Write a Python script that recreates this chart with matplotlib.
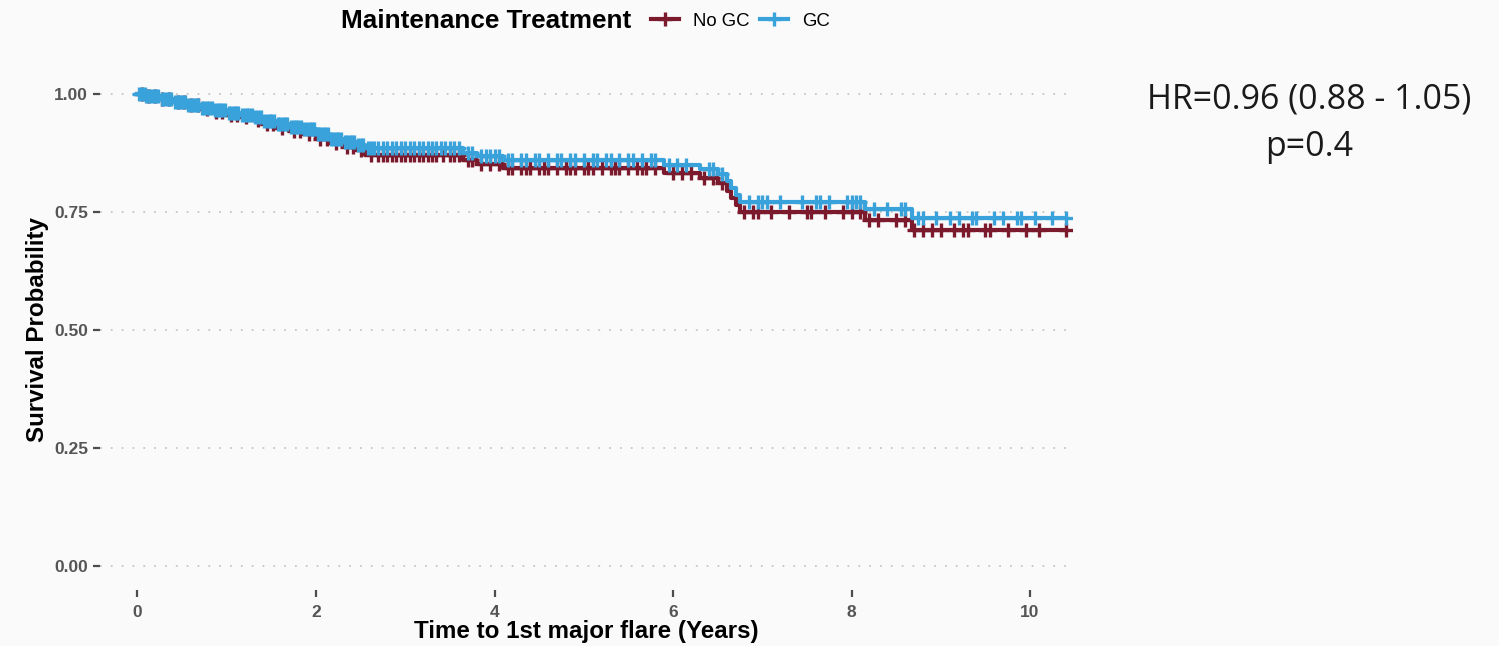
import numpy as np
import matplotlib.pyplot as plt
import matplotlib.lines as mlines

# Kaplan-Meier step values
gc_times = [0, 0.1, 0.25, 0.4, 0.55, 0.7, 0.85, 1.0, 1.15, 1.3, 1.4, 1.55, 1.7, 1.85,
            2.0, 2.15, 2.3, 2.45, 2.55, 3.65, 3.8, 4.1, 5.9, 6.3, 6.5, 6.6, 6.65, 6.7,
            6.75, 8.15, 8.68]
gc_surv = [1.0, 0.995, 0.988, 0.983, 0.977, 0.970, 0.965, 0.960, 0.955, 0.950, 0.942,
           0.935, 0.930, 0.925, 0.915, 0.905, 0.898, 0.892, 0.885, 0.875, 0.868, 0.860,
           0.850, 0.840, 0.830, 0.815, 0.800, 0.785, 0.770, 0.757, 0.737]

nogc_times = gc_times
nogc_surv = [1.0, 0.995, 0.988, 0.982, 0.975, 0.967, 0.961, 0.955, 0.950, 0.944, 0.936,
             0.928, 0.921, 0.915, 0.905, 0.895, 0.887, 0.880, 0.870, 0.860, 0.852, 0.843,
             0.832, 0.822, 0.810, 0.795, 0.780, 0.765, 0.750, 0.733, 0.712]

gc_censor = [0.02, 0.05, 0.08, 0.1, 0.13, 0.15, 0.18, 0.2, 0.23, 0.27, 0.3, 0.33, 0.35,
             0.38, 0.42, 0.45, 0.48, 0.5, 0.53, 0.57, 0.6, 0.63, 0.65, 0.68, 0.72, 0.75,
             0.78, 0.8, 0.83, 0.87, 0.9, 0.93, 0.95, 0.98, 1.02, 1.05, 1.08, 1.1, 1.13,
             1.17, 1.2, 1.23, 1.25, 1.28, 1.32, 1.35, 1.38, 1.42, 1.45, 1.48, 1.5, 1.53,
             1.57, 1.6, 1.63, 1.65, 1.68, 1.72, 1.75, 1.78, 1.8, 1.83, 1.87, 1.9, 1.93,
             1.95, 1.98, 2.02, 2.05, 2.08, 2.1, 2.13, 2.17, 2.2, 2.23, 2.25, 2.28, 2.32,
             2.35, 2.38, 2.4, 2.43, 2.47, 2.5, 2.53, 2.58, 2.62, 2.65, 2.7, 2.75, 2.8,
             2.85, 2.9, 2.95, 3.0, 3.05, 3.1, 3.15, 3.2, 3.25, 3.3, 3.35, 3.4, 3.45, 3.5,
             3.55, 3.6, 3.7, 3.75, 3.85, 3.9, 3.95, 4.0, 4.05, 4.15, 4.2, 4.3, 4.35, 4.45,
             4.5, 4.6, 4.7, 4.75, 4.85, 4.9, 5.0, 5.1, 5.15, 5.25, 5.3, 5.4, 5.5, 5.55,
             5.65, 5.75, 5.8, 5.95, 6.05, 6.15, 6.4, 6.45, 6.55, 6.85, 6.95, 7.0, 7.05,
             7.2, 7.45, 7.6, 7.65, 7.75, 7.95, 8.0, 8.05, 8.1, 8.25, 8.4, 8.55, 8.6, 8.75,
             8.8, 8.95, 9.1, 9.2, 9.35, 9.4, 9.6, 9.7, 9.85, 9.9, 10.05, 10.25, 10.4]
nogc_censor = [0.05, 0.12, 0.2, 0.28, 0.35, 0.45, 0.52, 0.6, 0.68, 0.78, 0.88, 0.95, 1.05,
               1.12, 1.22, 1.35, 1.45, 1.52, 1.62, 1.75, 1.82, 1.92, 2.05, 2.12, 2.22, 2.35,
               2.42, 2.5, 2.62, 2.7, 2.75, 2.8, 2.85, 2.9, 2.95, 3.0, 3.05, 3.1, 3.15, 3.2,
               3.25, 3.3, 3.35, 3.42, 3.5, 3.55, 3.6, 3.7, 3.75, 3.85, 3.95, 4.05, 4.15,
               4.2, 4.3, 4.35, 4.4, 4.5, 4.55, 4.6, 4.7, 4.8, 4.85, 4.9, 5.0, 5.05, 5.1,
               5.2, 5.3, 5.35, 5.4, 5.5, 5.6, 5.65, 5.7, 5.8, 6.0, 6.1, 6.2, 6.35, 6.45,
               6.55, 6.8, 6.9, 6.95, 7.1, 7.3, 7.5, 7.55, 7.7, 7.9, 8.0, 8.1, 8.2, 8.3,
               8.5, 8.6, 8.7, 8.8, 8.9, 9.0, 9.15, 9.25, 9.3, 9.5, 9.55, 9.75, 9.95, 10.1,
               10.4]

col_nogc = '#7b1a2c'
col_gc = '#3aa2db'
bg = '#fafafa'

fig = plt.figure(figsize=(14.99, 6.46), dpi=100, facecolor=bg)
ax = fig.add_axes([100/1499, 1-590/646, 972/1499, 520/646])
ax.set_facecolor(bg)

def draw(times, surv, censor, col):
    t = list(times) + [max(censor)]
    s = list(surv) + [surv[-1]]
    ax.step(t, s, where='post', color=col, lw=3.0, zorder=3)
    idx = np.searchsorted(times, censor, side='right') - 1
    cy = np.array(surv)[idx]
    ax.plot(censor, cy, ls='none', marker='+', ms=10, mew=2.4, color=col, zorder=3)

draw(nogc_times, nogc_surv, nogc_censor, col_nogc)
draw(gc_times, gc_surv, gc_censor, col_gc)

ax.set_xlim(-0.42, 10.47)
ax.set_ylim(-0.05, 1.05)
ax.set_xticks([0, 2, 4, 6, 8, 10])
ax.set_yticks([0, 0.25, 0.5, 0.75, 1.0])
ax.set_yticklabels(['0.00', '0.25', '0.50', '0.75', '1.00'])
for sp in ax.spines.values():
    sp.set_visible(False)
ax.yaxis.grid(True, color='#c4c8c4', lw=1.3, ls=(0, (1, 5)))
ax.set_axisbelow(True)
ax.tick_params(axis='both', colors='#4d4d4d', length=5, width=1.6,
               labelsize=12.5, labelcolor='#555555')
ax.tick_params(axis='x', pad=6)
for lab in ax.get_xticklabels() + ax.get_yticklabels():
    lab.set_fontweight('bold')
    lab.set_family('Liberation Sans')

ax.set_xlabel('Time to 1st major flare (Years)', fontsize=17.4, fontweight='bold',
              family='Liberation Sans', labelpad=0)
ax.set_ylabel('Survival Probability', fontsize=17.4, fontweight='bold',
              family='Liberation Sans', labelpad=4)

# legend at top
fig.text(341/1499, 1-21/646, 'Maintenance Treatment', fontsize=18.8, fontweight='bold',
         family='Liberation Sans', va='center', ha='left')
h1 = mlines.Line2D([], [], color=col_nogc, lw=3.0, marker='+', ms=10, mew=2.4)
h2 = mlines.Line2D([], [], color=col_gc, lw=3.0, marker='+', ms=10, mew=2.4)
fig.legend([h1, h2], ['No GC', 'GC'], loc='center left',
           bbox_to_anchor=(634/1499, 1-21/646), ncol=2, frameon=False,
           handlelength=1.5, handletextpad=0.75, columnspacing=0.6,
           prop={'family': 'Liberation Sans', 'size': 13.4})

fig.text(1309/1499, 1-100/646, 'HR=0.96 (0.88 - 1.05)', fontsize=24.4, ha='center',
         va='center', family='Open Sans', color='#1a1a1a')
fig.text(1309/1499, 1-147/646, 'p=0.4', fontsize=24.4, ha='center', va='center',
         family='Open Sans', color='#1a1a1a')

fig.savefig('out.png', dpi=100, facecolor=bg)
